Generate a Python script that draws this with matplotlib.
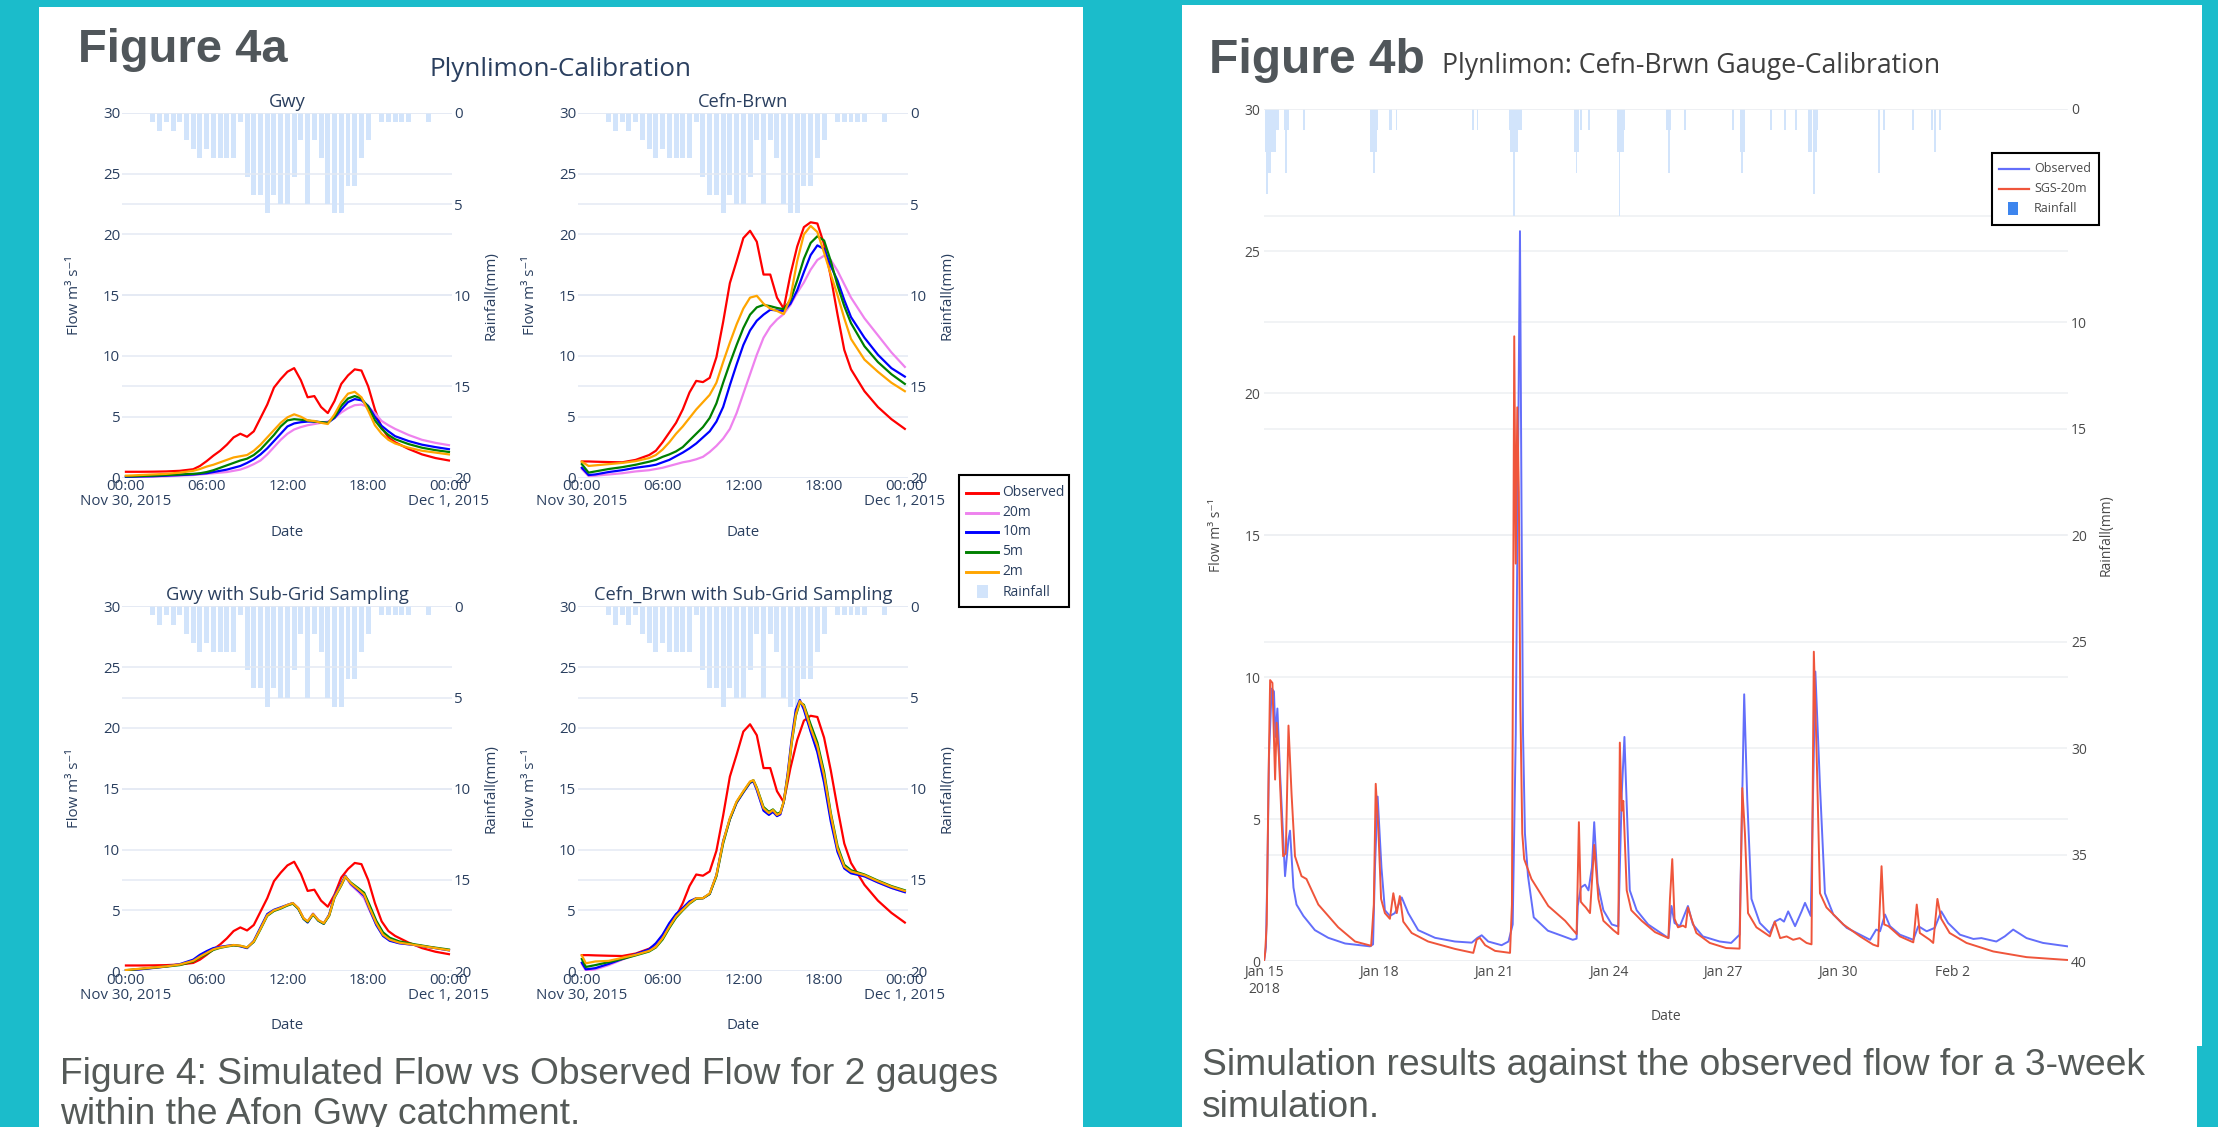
import matplotlib
matplotlib.use('Agg')
import matplotlib.pyplot as plt
from matplotlib.patches import Rectangle
from matplotlib.lines import Line2D

plt.rcParams['font.family'] = ['Open Sans', 'DejaVu Sans']

# ============================ DATA ============================
# ---- Figure 4a (hours since Nov 30, 2015 00:00) ----
HOUR_TICKS = [0, 6, 12, 18, 24]
HOUR_TICK_LABELS = ['00:00\nNov 30, 2015', '06:00', '12:00', '18:00', '00:00\nDec 1, 2015']
SERIES_NAMES = ['Observed', '20m', '10m', '5m', '2m']
SERIES_COLORS = ['#FF0000', '#EE82EE', '#0000FF', '#008000', '#FFA500']

RAIN_T = [2.0, 2.5, 3.0, 3.5, 4.0, 4.5, 5.0, 5.5, 6.0, 6.5, 7.0, 7.5, 8.0, 8.5,
          9.0, 9.5, 10.0, 10.5, 11.0, 11.5, 12.0, 12.5, 13.0, 13.5, 14.0, 14.5,
          15.0, 15.5, 16.0, 16.5, 17.0, 17.5, 18.0, 18.5, 19.0, 19.5, 20.0, 20.5,
          21.0, 21.5, 22.0, 22.5]
RAIN_MM = [0.5, 1.0, 0.5, 1.0, 0.5, 1.5, 2.0, 2.5, 2.0, 2.5, 2.5, 2.5, 2.5, 0.5,
           3.5, 4.5, 4.5, 5.5, 4.5, 5.0, 5.0, 3.5, 1.5, 5.0, 1.5, 2.5, 5.0, 5.5,
           5.5, 4.0, 4.0, 2.5, 1.5, 0.0, 0.5, 0.5, 0.5, 0.5, 0.5, 0.0, 0.0, 0.5]

T_AB = [0, 0.5, 1, 2, 3, 4, 5, 5.5, 6, 6.5, 7, 7.5, 8, 8.5, 9, 9.5, 10, 10.5, 11, 11.5,
        12, 12.5, 13, 13.5, 14, 14.5, 15, 15.5, 16, 16.5, 17, 17.5, 18, 18.5, 19, 19.5,
        20, 21, 22, 23, 24]
GWY_OBS = [0.47, 0.47, 0.47, 0.48, 0.5, 0.55, 0.68, 0.95, 1.35, 1.8, 2.2, 2.7, 3.3, 3.6, 3.35, 3.8,
           4.9, 6.0, 7.4, 8.1, 8.7, 9.0, 8.0, 6.6, 6.7, 5.8, 5.3, 6.3, 7.7, 8.4, 8.9, 8.8, 7.5,
           5.6, 4.1, 3.3, 2.9, 2.35, 1.9, 1.6, 1.4]
GWY_20M = [0.05, 0.05, 0.06, 0.08, 0.1, 0.15, 0.2, 0.25, 0.3, 0.35, 0.4, 0.45, 0.55, 0.65, 0.85, 1.1,
           1.4, 1.9, 2.5, 3.1, 3.6, 3.95, 4.15, 4.3, 4.4, 4.5, 4.6, 4.9, 5.35, 5.7, 5.95, 6.0, 5.8,
           5.3, 4.65, 4.3, 4.0, 3.5, 3.1, 2.85, 2.66]
GWY_10M = [0.05, 0.06, 0.08, 0.1, 0.15, 0.2, 0.25, 0.3, 0.35, 0.45, 0.55, 0.65, 0.8, 0.95, 1.2, 1.5,
           1.9, 2.4, 3.0, 3.6, 4.2, 4.45, 4.55, 4.6, 4.6, 4.55, 4.5, 4.9, 5.6, 6.2, 6.45, 6.35, 5.9,
           5.0, 4.25, 3.8, 3.4, 3.0, 2.7, 2.5, 2.33]
GWY_5M = [0.1, 0.1, 0.12, 0.15, 0.2, 0.25, 0.3, 0.35, 0.45, 0.6, 0.8, 1.0, 1.2, 1.4, 1.55, 1.85,
          2.3, 2.9, 3.5, 4.2, 4.7, 4.8, 4.75, 4.7, 4.6, 4.55, 4.5, 5.0, 5.9, 6.5, 6.7, 6.5, 5.8,
          4.7, 4.0, 3.5, 3.15, 2.75, 2.45, 2.25, 2.1]
GWY_2M = [0.15, 0.17, 0.2, 0.25, 0.3, 0.4, 0.55, 0.7, 0.9, 1.05, 1.25, 1.45, 1.65, 1.75, 1.85, 2.2,
          2.7, 3.3, 3.9, 4.5, 4.95, 5.2, 5.0, 4.7, 4.65, 4.5, 4.4, 5.2, 6.2, 6.9, 7.05, 6.6, 5.5,
          4.3, 3.6, 3.1, 2.8, 2.45, 2.2, 2.05, 1.9]

CEFN_OBS = [1.32, 1.32, 1.3, 1.27, 1.25, 1.45, 1.85, 2.2, 2.9, 3.7, 4.5, 5.6, 7.0, 7.95, 7.85, 8.2,
            9.9, 12.8, 16.0, 17.8, 19.7, 20.3, 19.4, 16.7, 16.7, 14.8, 13.9, 16.7, 19.0, 20.6,
            21.0, 20.9, 19.2, 16.5, 13.4, 10.5, 8.9, 7.1, 5.8, 4.8, 4.0]
CEFN_20M = [0.7, 0.12, 0.15, 0.25, 0.35, 0.5, 0.6, 0.7, 0.8, 0.95, 1.1, 1.25, 1.35, 1.5, 1.7, 2.1,
            2.6, 3.2, 4.0, 5.3, 6.9, 8.5, 10.1, 11.5, 12.4, 13.0, 13.45, 14.2, 15.2, 16.05, 17.1,
            17.9, 18.25, 17.9, 17.0, 15.9, 14.8, 13.1, 11.7, 10.3, 9.1]
CEFN_10M = [0.8, 0.2, 0.25, 0.45, 0.6, 0.8, 0.95, 1.05, 1.25, 1.45, 1.75, 2.05, 2.4, 2.8, 3.3, 3.8,
            4.6, 5.8, 7.6, 9.3, 10.9, 12.1, 12.9, 13.4, 13.8, 13.75, 13.7, 14.3, 15.4, 16.9, 18.3,
            19.1, 18.8, 17.4, 16.2, 14.6, 13.2, 11.5, 10.1, 9.0, 8.3]
CEFN_5M = [1.1, 0.4, 0.5, 0.7, 0.85, 1.05, 1.3, 1.45, 1.7, 1.9, 2.15, 2.5, 3.05, 3.6, 4.15, 4.9,
           6.1, 7.8, 9.4, 10.9, 12.3, 13.4, 14.0, 14.2, 14.1, 13.95, 13.85, 14.6, 16.2, 18.0, 19.3,
           19.85, 19.5, 17.8, 15.8, 14.1, 12.7, 10.8, 9.5, 8.5, 7.7]
CEFN_2M = [1.3, 0.95, 1.0, 1.1, 1.2, 1.35, 1.6, 1.85, 2.3, 2.9, 3.6, 4.2, 4.9, 5.6, 6.2, 6.8,
           7.8, 9.5, 11.1, 12.6, 13.9, 14.8, 14.95, 14.3, 13.9, 13.7, 13.45, 14.8, 17.8, 20.0,
           20.7, 20.2, 18.5, 16.7, 15.0, 13.1, 11.4, 9.7, 8.7, 7.8, 7.1]

T_C = [0, 1, 2, 3, 4, 5, 5.5, 6, 6.5, 7, 7.5, 8, 8.5, 9, 9.5, 10, 10.5, 11, 11.5, 12, 12.4,
       12.8, 13.2, 13.5, 13.9, 14.3, 14.7, 15.1, 15.5, 16, 16.3, 16.7, 17.3, 17.7, 18.1, 18.6,
       19.1, 19.6, 20.3, 21.5, 22.7, 24]
GWYS_20M = [0.05, 0.15, 0.25, 0.38, 0.55, 0.9, 1.3, 1.6, 1.88, 2.0, 2.08, 2.15, 2.05, 1.9, 2.45,
            3.55, 4.65, 5.0, 5.2, 5.45, 5.6, 5.2, 4.35, 4.1, 4.75, 4.2, 3.95, 4.6, 6.15, 7.15, 7.8,
            7.1, 6.5, 6.0, 5.0, 3.85, 2.95, 2.55, 2.3, 2.15, 1.95, 1.72]
GWYS_10M = [0.05, 0.15, 0.27, 0.4, 0.58, 0.95, 1.35, 1.65, 1.9, 2.0, 2.08, 2.15, 2.05, 1.9, 2.5,
            3.6, 4.7, 5.05, 5.25, 5.45, 5.6, 5.15, 4.3, 4.0, 4.7, 4.15, 3.9, 4.65, 6.2, 7.2, 7.85,
            7.2, 6.6, 6.2, 5.1, 3.8, 2.9, 2.5, 2.3, 2.15, 1.95, 1.72]
GWYS_5M = [0.08, 0.18, 0.28, 0.38, 0.5, 0.8, 1.15, 1.42, 1.75, 1.92, 2.03, 2.12, 2.08, 1.95, 2.4,
           3.45, 4.55, 4.95, 5.15, 5.4, 5.55, 5.15, 4.3, 4.05, 4.65, 4.15, 3.9, 4.55, 6.05, 7.05,
           7.75, 7.3, 6.8, 6.45, 5.45, 4.15, 3.2, 2.75, 2.45, 2.2, 1.98, 1.78]
GWYS_2M = [0.1, 0.2, 0.3, 0.4, 0.55, 0.85, 1.2, 1.5, 1.8, 1.95, 2.05, 2.15, 2.1, 1.95, 2.45, 3.5,
           4.6, 5.0, 5.2, 5.45, 5.6, 5.2, 4.35, 4.1, 4.7, 4.2, 3.95, 4.6, 6.1, 7.1, 7.8, 7.25, 6.7,
           6.3, 5.2, 3.95, 3.0, 2.6, 2.35, 2.15, 1.95, 1.73]

T_D = [0, 0.3, 1, 2, 3, 4, 5, 5.5, 6, 6.5, 7, 7.5, 8, 8.5, 9, 9.5, 10, 10.5, 11, 11.5, 12, 12.5,
       12.75, 13, 13.5, 13.9, 14.2, 14.5, 14.75, 15, 15.3, 15.6, 15.9, 16.2, 16.5, 17, 17.5, 18,
       18.5, 19, 19.5, 20, 21, 22, 23, 24]
CEFNS_20M = [0.6, 0.05, 0.15, 0.5, 0.95, 1.35, 1.75, 2.25, 2.95, 3.9, 4.65, 5.15, 5.7, 6.0, 6.0,
             6.35, 7.85, 10.6, 12.5, 13.85, 14.7, 15.5, 15.6, 14.95, 13.25, 12.9, 13.15, 12.8,
             12.9, 13.9, 16.2, 19.0, 21.3, 22.2, 21.6, 19.8, 18.1, 15.7, 12.5, 9.9, 8.5, 8.1,
             7.8, 7.3, 6.85, 6.5]
CEFNS_10M = [0.7, 0.15, 0.25, 0.6, 1.0, 1.4, 1.8, 2.3, 3.0, 3.95, 4.7, 5.2, 5.75, 6.0, 6.0, 6.35,
             7.9, 10.7, 12.5, 13.85, 14.7, 15.5, 15.6, 14.9, 13.2, 12.85, 13.1, 12.75, 12.9, 13.9,
             16.3, 19.2, 21.5, 22.3, 21.5, 19.7, 18.0, 15.5, 12.3, 9.8, 8.45, 8.05, 7.8, 7.3,
             6.85, 6.5]
CEFNS_5M = [1.0, 0.35, 0.5, 0.75, 1.0, 1.3, 1.62, 1.95, 2.6, 3.55, 4.4, 5.0, 5.55, 5.95, 6.0, 6.35,
            7.8, 10.5, 12.5, 13.9, 14.75, 15.55, 15.7, 15.1, 13.5, 13.1, 13.3, 12.95, 13.05, 13.9,
            16.0, 18.8, 21.0, 22.1, 21.9, 20.3, 18.8, 16.4, 13.0, 10.3, 8.75, 8.3, 7.95, 7.45,
            7.0, 6.65]
CEFNS_2M = [1.3, 0.65, 0.8, 0.85, 1.1, 1.35, 1.67, 2.0, 2.7, 3.65, 4.5, 5.05, 5.6, 6.0, 6.0, 6.4,
            7.9, 10.65, 12.6, 13.95, 14.8, 15.6, 15.7, 15.05, 13.4, 13.0, 13.25, 12.85, 13.0,
            13.95, 16.1, 18.9, 21.1, 22.2, 21.8, 20.0, 18.5, 16.1, 12.85, 10.1, 8.6, 8.2, 7.9,
            7.4, 6.95, 6.6]

# ---- Figure 4b (days since Jan 15, 2018) ----
DAY_TICKS = [0, 3, 6, 9, 12, 15, 18]
DAY_TICK_LABELS = ['Jan 15\n2018', 'Jan 18', 'Jan 21', 'Jan 24', 'Jan 27', 'Jan 30', 'Feb 2']
NAMES_4B = ['Observed', 'SGS-20m', 'Rainfall']
COLORS_4B = ['#636EFA', '#EF553B']

OBS4B_DAY = [0.0, 0.05, 0.09, 0.13, 0.2, 0.26, 0.3, 0.35, 0.42, 0.55, 0.64, 0.68, 0.77, 0.85, 1.03,
             1.33, 1.68, 2.12, 2.77,
             2.85, 2.9, 2.97, 3.07, 3.16, 3.29, 3.42, 3.6, 3.77, 4.03, 4.47, 4.99, 5.43, 5.58,
             5.69, 5.86, 6.21, 6.39,
             6.5, 6.58, 6.63, 6.69, 6.73, 6.77, 6.82, 6.9, 7.05, 7.42, 7.79, 8.07, 8.17,
             8.2, 8.28, 8.39, 8.48, 8.57, 8.63, 8.72, 8.87, 9.09, 9.26,
             9.35, 9.42, 9.48, 9.56, 9.74, 10.04, 10.57,
             10.65, 10.73, 10.87, 11.08, 11.21, 11.47, 11.91, 12.21, 12.43,
             12.55, 12.63, 12.74, 12.96, 13.22, 13.35, 13.49, 13.59, 13.7, 13.88, 14.05, 14.14,
             14.29,
             14.41, 14.53, 14.66, 14.88, 15.23, 15.58, 15.84, 16.0, 16.1, 16.23, 16.36, 16.62,
             16.97, 17.1, 17.32, 17.53, 17.7, 17.88, 18.19, 18.54, 18.75, 19.14, 19.36, 19.58,
             19.93, 20.36, 21.0]
OBS4B_FLOW = [0.0, 0.5, 3.3, 7.2, 9.6, 9.5, 7.9, 8.9, 6.6, 3.0, 4.3, 4.6, 2.6, 2.0, 1.6,
              1.1, 0.83, 0.63, 0.53,
              0.6, 3.3, 5.8, 3.3, 1.8, 1.6, 1.7, 2.25, 1.7, 1.1, 0.83, 0.7, 0.66, 0.83,
              0.92, 0.7, 0.57, 0.7,
              1.3, 8.0, 16.0, 25.7, 16.0, 8.0, 4.5, 3.0, 1.55, 1.08, 0.9, 0.76, 0.8,
              1.95, 2.6, 2.7, 2.5, 3.3, 4.9, 2.75, 1.8, 1.3, 1.23,
              5.9, 7.9, 5.5, 2.5, 1.8, 1.3, 0.82,
              1.95, 1.35, 1.24, 1.95, 1.3, 0.88, 0.7, 0.65, 0.94,
              9.4, 5.7, 2.2, 1.35, 1.0, 1.4, 1.5, 1.4, 1.76, 1.24, 1.76, 2.06,
              1.6,
              10.2, 6.2, 2.4, 1.65, 1.18, 0.94, 0.76, 1.12, 1.06, 1.65, 1.24, 0.94,
              0.76, 1.24, 1.06, 1.18, 1.76, 1.35, 0.94, 0.79, 0.82, 0.7, 0.88, 1.12,
              0.82, 0.65, 0.53]
SIM4B_DAY = [0.0, 0.03, 0.07, 0.12, 0.16, 0.22, 0.29, 0.33, 0.39, 0.5, 0.57, 0.64, 0.72, 0.81,
             0.98, 1.11, 1.42, 1.94, 2.38, 2.8,
             2.87, 2.92, 2.99, 3.06, 3.16, 3.29, 3.38, 3.47, 3.55, 3.64, 3.86, 4.29, 4.99, 5.47,
             5.56, 5.64, 5.78, 6.04, 6.43,
             6.48, 6.52, 6.54, 6.58, 6.62, 6.66, 6.7, 6.75, 6.8, 6.99, 7.43, 7.87, 8.17,
             8.23, 8.28, 8.34, 8.41, 8.52, 8.58, 8.63, 8.74, 8.87, 9.13, 9.26,
             9.3, 9.35, 9.39, 9.48, 9.6, 9.87, 10.22, 10.57,
             10.61, 10.67, 10.73, 10.82, 10.95, 11.02, 11.08, 11.17, 11.3, 11.65, 12.08, 12.43,
             12.5, 12.57, 12.65, 12.87, 13.22, 13.35, 13.49, 13.66, 13.83, 14.0, 14.18, 14.31,
             14.37, 14.44, 14.53, 14.7, 15.14, 15.58, 15.92, 16.05,
             16.14, 16.21, 16.32, 16.62, 16.97, 17.06, 17.14, 17.4, 17.49, 17.6, 17.7, 17.92,
             18.36, 19.06, 19.93, 21.0]
SIM4B_FLOW = [0.0, 0.3, 1.3, 6.5, 9.9, 9.8, 6.4, 8.4, 7.2, 3.7, 3.8, 8.3, 5.9, 3.7,
              3.0, 2.9, 2.0, 1.2, 0.7, 0.55,
              2.0, 6.25, 4.6, 2.2, 1.7, 1.5, 2.4, 1.7, 2.3, 1.4, 1.0, 0.7, 0.44, 0.3,
              0.77, 0.83, 0.57, 0.37, 0.3,
              2.0, 15.0, 22.0, 14.0, 19.5, 16.5, 9.0, 4.5, 3.6, 2.9, 1.95, 1.43, 0.96,
              4.9, 2.1, 2.0, 1.9, 1.7, 3.0, 4.1, 2.2, 1.43, 1.1, 0.96,
              7.7, 5.3, 5.65, 2.5, 1.8, 1.43, 1.03, 0.82,
              2.2, 3.6, 1.5, 1.2, 1.26, 1.2, 1.9, 1.5, 1.0, 0.65, 0.47, 0.45,
              6.1, 4.5, 1.7, 1.2, 0.88, 1.4, 0.82, 0.88, 0.76, 0.82, 0.65, 0.6,
              10.9, 7.5, 2.4, 1.9, 1.3, 0.88, 0.59, 0.53,
              3.35, 1.3, 1.24, 0.88, 0.67, 2.0, 1.0, 0.76, 0.65, 2.2, 1.5, 1.0,
              0.65, 0.35, 0.15, 0.05]
RAIN4B_DAY = [0.04, 0.08, 0.125, 0.17, 0.21, 0.25, 0.29, 0.33, 0.375, 0.54, 0.58, 0.625, 1.04,
              2.79, 2.83, 2.875, 2.92, 2.96, 3.29, 3.33, 3.46,
              5.46, 5.58,
              6.42, 6.46, 6.5, 6.54, 6.58, 6.625, 6.67, 6.71,
              8.12, 8.17, 8.21, 8.29, 8.5,
              9.25, 9.29, 9.33, 9.375, 9.42,
              10.54, 10.58, 10.62, 11.0,
              12.25, 12.46, 12.5, 12.54,
              13.25, 13.62, 13.9,
              14.25, 14.29, 14.375, 14.42, 14.46,
              16.08, 16.21,
              16.96,
              17.46, 17.54, 17.67]
RAIN4B_MM = [2, 4, 3, 3, 2, 2, 2, 1, 1, 1, 3, 1, 1,
             2, 2, 3, 2, 1, 1, 1, 1,
             1, 1,
             1, 2, 2, 5, 2, 2, 1, 1,
             2, 3, 2, 1, 1,
             2, 5, 2, 2, 1,
             1, 3, 1, 1,
             1, 2, 3, 2,
             1, 1, 1,
             2, 2, 4, 2, 1,
             3, 1,
             1,
             1, 2, 1]

# ============================ STYLE / LAYOUT ============================
W, H = 2218, 1127
TEAL = '#1BBCCB'
C4A = '#2A3F5F'
C4B = '#4A4A4A'
GRID4A = '#E4EAF4'
GRID4B = '#EEF0F3'
RAIN_COLOR = '#D2E4FB'
FIG_GRAY = '#50565A'
CAP_GRAY = '#555A58'
TICK_FS = 10.8

fig = plt.figure(figsize=(W / 100, H / 100), dpi=100)
fig.patch.set_facecolor(TEAL)
renderer = fig.canvas.get_renderer()


def fy(y):
    return 1 - y / H


def px_axes(x0, y0, x1, y1):
    return fig.add_axes([x0 / W, 1 - y1 / H, (x1 - x0) / W, (y1 - y0) / H])


def rect(x0, y0, x1, y1, **kw):
    r = Rectangle((x0 / W, 1 - y1 / H), (x1 - x0) / W, (y1 - y0) / H,
                  transform=fig.transFigure, **kw)
    fig.add_artist(r)
    return r


def hline(x0, x1, y, **kw):
    fig.add_artist(Line2D([x0 / W, x1 / W], [fy(y), fy(y)], transform=fig.transFigure, **kw))


def text(x, y, s, **kw):
    return fig.text(x / W, fy(y), s, **kw)


def fit_text(x, y, s, width, size0=20, **kw):
    t = fig.text(x / W, fy(y), s, fontsize=size0, **kw)
    w = t.get_window_extent(renderer=renderer).width
    t.set_fontsize(size0 * width / w)
    return t


# white panels
rect(39, 7, 1083, 1127, facecolor='white', edgecolor='none', zorder=-2)
rect(1182, 5, 2202, 1046, facecolor='white', edgecolor='none', zorder=-2)
rect(1182, 1046, 2197, 1127, facecolor='white', edgecolor='none', zorder=-2)


def style_axes(ax, ax2, color, grid, fs):
    for a in (ax, ax2):
        for sp in a.spines.values():
            sp.set_visible(False)
        a.tick_params(length=0, labelsize=fs, colors=color)
        a.grid(axis='y', color=grid, lw=1.1)
        a.grid(axis='x', visible=False)
        a.set_axisbelow(True)


def panel_4a(x0, y0, x1, y1, title, obs_v, sim_t, sims):
    ax = px_axes(x0, y0, x1, y1)
    ax2 = ax.twinx()
    ax2.bar(RAIN_T, RAIN_MM, width=0.37, color=RAIN_COLOR, zorder=1)
    ax2.set_ylim(20, 0)
    ax2.set_yticks([0, 5, 10, 15, 20])
    ax.set_ylim(0, 30)
    ax.set_yticks([0, 5, 10, 15, 20, 25, 30])
    ax.set_xlim(-0.27, 24.25)
    ax.set_xticks(HOUR_TICKS)
    ax.set_xticklabels(HOUR_TICK_LABELS)
    style_axes(ax, ax2, C4A, GRID4A, TICK_FS)
    ax.tick_params(axis='y', pad=1.5)
    ax2.tick_params(axis='y', pad=1.2)
    ax.tick_params(axis='x', pad=1.0)
    for lbl in ax.get_xticklabels():
        lbl.set_linespacing(1.0)
    ax.plot(T_AB, obs_v, color=SERIES_COLORS[0], lw=1.6, solid_joinstyle='round')
    for v, c in zip(sims, SERIES_COLORS[1:]):
        ax.plot(sim_t, v, color=c, lw=1.6, solid_joinstyle='round')
    ax.set_zorder(ax2.get_zorder() + 1)
    ax.patch.set_visible(False)
    cx = (x0 + x1) / 2
    cy = (y0 + y1) / 2
    return ax, cx, cy


# ---- Figure 4a layout ----
PANELS_4A = [
    (122.3, 112.9, 452.3, 477.5, 'Gwy', GWY_OBS, T_AB, [GWY_20M, GWY_10M, GWY_5M, GWY_2M]),
    (578.2, 112.9, 908.2, 477.5, 'Cefn-Brwn', CEFN_OBS, T_AB,
     [CEFN_20M, CEFN_10M, CEFN_5M, CEFN_2M]),
    (122.3, 606.3, 452.3, 971.2, 'Gwy with Sub-Grid Sampling', GWY_OBS, T_C,
     [GWYS_20M, GWYS_10M, GWYS_5M, GWYS_2M]),
    (578.2, 606.3, 908.2, 971.2, 'Cefn_Brwn with Sub-Grid Sampling', CEFN_OBS, T_D,
     [CEFNS_20M, CEFNS_10M, CEFNS_5M, CEFNS_2M]),
]

# subplot title size from the widest one
probe = fit_text(0, 0, 'Gwy with Sub-Grid Sampling', 242, family='Open Sans')
SUB_FS = probe.get_fontsize()
probe.remove()

for (x0, y0, x1, y1, title, obs, st, sims) in PANELS_4A:
    ax, cx, cy = panel_4a(x0, y0, x1, y1, title, obs, st, sims)
    text(cx, y0 - 11, title, ha='center', va='center', fontsize=SUB_FS, color=C4A)
    text(cx, y1 + 54.5, 'Date', ha='center', va='center', fontsize=TICK_FS, color=C4A)
    text(x0 - 48, cy, 'Flow m³ s⁻¹', ha='center', va='center', rotation=90,
         fontsize=TICK_FS, color=C4A)
    text(x1 + 38.5, cy, 'Rainfall(mm)', ha='center', va='center', rotation=90,
         fontsize=TICK_FS, color=C4A)

fit_text(561, 69, 'Plynlimon-Calibration', 262, ha='center', va='center', color=C4A,
         family='Open Sans')
fit_text(78, 62.5, 'Figure 4a', 209, ha='left', va='baseline', color=FIG_GRAY,
         family='Liberation Sans', fontweight='bold')

# legend 4a
rect(959.3, 475, 1069.3, 606.7, facecolor='white', edgecolor='black', lw=1.5, zorder=5)
LEG_ROWS_4A = [492.7, 512.7, 531.7, 551.7, 571.7, 592.0]
for name, col, yy in zip(SERIES_NAMES, SERIES_COLORS, LEG_ROWS_4A[:5]):
    hline(966, 997.7, yy, color=col, lw=2.1, zorder=6)
    text(1002.3, yy, name, ha='left', va='center', fontsize=10, color=C4A, zorder=6)
rect(976.7, 585.5, 988.3, 598.5, facecolor=RAIN_COLOR, edgecolor='none', zorder=6)
text(1002.3, LEG_ROWS_4A[5], 'Rainfall', ha='left', va='center', fontsize=10, color=C4A,
     zorder=6)

cap1 = fit_text(60, 1084.3, 'Figure 4: Simulated Flow vs Observed Flow for 2 gauges', 935,
                ha='left', va='baseline', color=CAP_GRAY, family='Liberation Sans')
text(60, 1124.3, 'within the Afon Gwy catchment.', ha='left', va='baseline',
     fontsize=cap1.get_fontsize(), color=CAP_GRAY, family='Liberation Sans')

# ---- Figure 4b ----
X0B, Y0B, X1B, Y1B = 1264, 109, 2067.5, 961.4
axb = px_axes(X0B, Y0B, X1B, Y1B)
axb2 = axb.twinx()
axb2.bar(RAIN4B_DAY, RAIN4B_MM, width=0.045, color=RAIN_COLOR, zorder=1)
axb2.set_ylim(40, 0)
axb2.set_yticks([0, 5, 10, 15, 20, 25, 30, 35, 40])
axb.set_ylim(0, 30)
axb.set_yticks([0, 5, 10, 15, 20, 25, 30])
axb.set_xlim(0, 21)
axb.set_xticks(DAY_TICKS)
axb.set_xticklabels(DAY_TICK_LABELS)
style_axes(axb, axb2, C4B, GRID4B, 10)
axb.tick_params(axis='y', pad=2.5)
axb2.tick_params(axis='y', pad=2.5)
axb.tick_params(axis='x', pad=2.5)
axb.plot(OBS4B_DAY, OBS4B_FLOW, color=COLORS_4B[0], lw=1.4)
axb.plot(SIM4B_DAY, SIM4B_FLOW, color=COLORS_4B[1], lw=1.4)
axb.set_zorder(axb2.get_zorder() + 1)
axb.patch.set_visible(False)

cyb = (Y0B + Y1B) / 2
text(1216, cyb, 'Flow m³ s⁻¹', ha='center', va='center', rotation=90, fontsize=10, color=C4B)
text(2106, cyb, 'Rainfall(mm)', ha='center', va='center', rotation=90, fontsize=10, color=C4B)
text((X0B + X1B) / 2, 1016, 'Date', ha='center', va='center', fontsize=10, color=C4B)

fit_text(1209, 73, 'Figure 4b', 215, ha='left', va='baseline', color=FIG_GRAY,
         family='Liberation Sans', fontweight='bold')
fit_text(1442, 66, 'Plynlimon: Cefn-Brwn Gauge-Calibration', 498, ha='left', va='center',
         color='#3F3F3F', family='Open Sans')

# legend 4b
rect(1992, 152.5, 2099, 225, facecolor='white', edgecolor='black', lw=1.5, zorder=5)
for name, col, yy in zip(NAMES_4B[:2], COLORS_4B, [168.5, 188.5]):
    hline(1999, 2028.6, yy, color=col, lw=1.6, zorder=6)
    text(2034, yy, name, ha='left', va='center', fontsize=9, color=C4B, zorder=6)
rect(2007.5, 202.5, 2017.5, 214.5, facecolor='#3D85EE', edgecolor='none', zorder=6)
text(2034, 208.5, NAMES_4B[2], ha='left', va='center', fontsize=9, color=C4B, zorder=6)

cap2 = fit_text(1202, 1075.3, 'Simulation results against the observed flow for a 3-week', 941,
                ha='left', va='baseline', color=CAP_GRAY, family='Liberation Sans')
text(1202, 1116.9, 'simulation.', ha='left', va='baseline', fontsize=cap2.get_fontsize(),
     color=CAP_GRAY, family='Liberation Sans')

fig.savefig('out.png', dpi=100, facecolor=fig.get_facecolor())
